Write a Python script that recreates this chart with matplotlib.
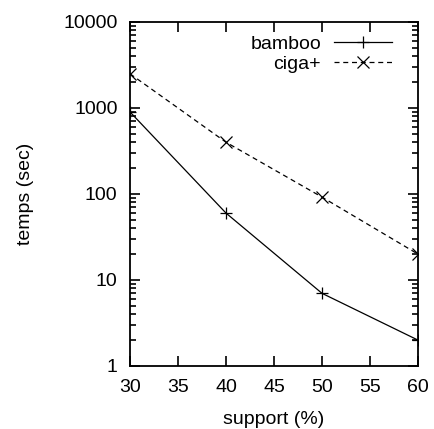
import matplotlib
matplotlib.use("Agg")
import matplotlib.pyplot as plt
from matplotlib.ticker import LogLocator, FixedLocator, NullFormatter

plt.rcParams['font.family'] = ['Liberation Sans', 'DejaVu Sans']

# donnees
support = [30, 40, 50, 60]
bamboo = [900, 60, 7, 2]
ciga = [2500, 400, 92, 20]

fig = plt.figure(figsize=(4.34, 4.29), dpi=100)
ax = fig.add_axes([130 / 434, 1 - 366 / 429, (418 - 130) / 434, (366 - 22) / 429])

ax.plot(support, bamboo, color='black', lw=0.9, marker='+', ms=9, mew=0.9, label='bamboo')
ax.plot(support, ciga, color='black', lw=0.9, ls=(0, (4, 3)), marker='x', ms=8, mew=0.9,
        label='ciga+')

ax.set_yscale('log')
ax.set_xlim(30, 60)
ax.set_ylim(1, 10000)
ax.xaxis.set_major_locator(FixedLocator([30, 35, 40, 45, 50, 55, 60]))
ax.yaxis.set_major_locator(FixedLocator([1, 10, 100, 1000, 10000]))
ax.set_yticklabels(['1', '10', '100', '1000', '10000'])
ax.yaxis.set_minor_locator(LogLocator(base=10, subs=range(2, 10)))
ax.yaxis.set_minor_formatter(NullFormatter())

ax.tick_params(which='both', direction='in', top=True, right=True, labelsize=14, width=1.2)
ax.tick_params(which='major', length=7)
ax.tick_params(which='minor', length=4)
ax.tick_params(axis='x', which='major', pad=9)
ax.tick_params(axis='y', which='major', pad=9)
for s in ax.spines.values():
    s.set_linewidth(1.3)

ax.set_xlabel('support (%)', fontsize=14, labelpad=11)
ax.set_ylabel('temps (sec)', fontsize=14, labelpad=21)

ax.legend(loc='upper right', bbox_to_anchor=(0.91, 0.962), frameon=False, markerfirst=False,
          fontsize=14, handlelength=3.0, handletextpad=0.65, borderaxespad=0, borderpad=0,
          labelspacing=0.15)

fig.savefig('out.png', dpi=100)
